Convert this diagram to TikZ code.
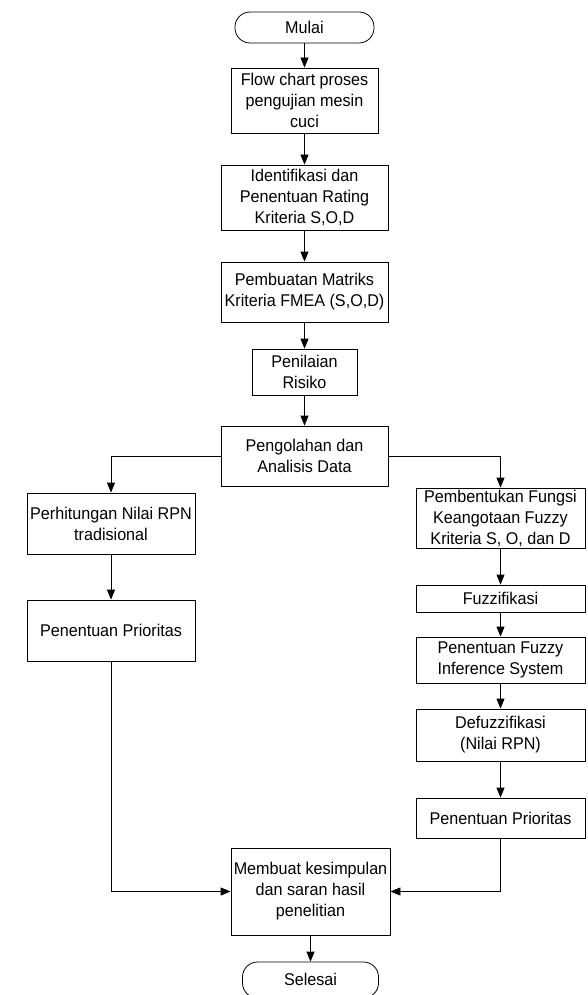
\documentclass[tikz,border=0pt]{standalone}
\usepackage{fontspec}
\setmainfont{Liberation Sans}[FakeStretch=0.95]
\usetikzlibrary{arrows.meta,positioning}

\begin{document}
\begin{tikzpicture}[x=1pt,y=-1pt,
  font=\fontsize{17}{21}\selectfont,
  blk/.style={draw,line width=0.8pt,fill=white,align=center,inner sep=0pt},
  trm/.style={blk,rounded corners=15pt},
  a/.style={-{Triangle[length=10pt,width=8pt]},line width=0.8pt}]

\useasboundingbox (0,0) rectangle (587,995);
\clip (0,0) rectangle (587,995);

% ------------------------------ main column -------------------------------
\node[trm,minimum width=139pt,minimum height=31pt] (mulai) at (304.5,27.5) {Mulai};
\node[blk,minimum width=147pt,minimum height=65pt] (flow)  at (304.5,100.5)
  {Flow chart proses\\pengujian mesin\\cuci};
\node[blk,minimum width=167pt,minimum height=65pt] (ident) at (304.5,197.5)
  {Identifikasi dan\\Penentuan Rating\\Kriteria S,O,D};
\node[blk,minimum width=167pt,minimum height=60pt] (matriks) at (304.5,292)
  {Pembuatan Matriks\\Kriteria FMEA (S,O,D)};
\node[blk,minimum width=105pt,minimum height=46pt] (risiko) at (304.5,372)
  {Penilaian\\Risiko};
\node[blk,minimum width=167pt,minimum height=60pt] (olah) at (304.5,456)
  {Pengolahan dan\\Analisis Data};
\draw[a] (mulai) -- (flow);
\draw[a] (flow) -- (ident);
\draw[a] (ident) -- (matriks);
\draw[a] (matriks) -- (risiko);
\draw[a] (risiko) -- (olah);

% ------------------------------ left branch -------------------------------
\node[blk,minimum width=168pt,minimum height=61pt] (hitung) at (111,523.5)
  {Perhitungan Nilai RPN\\tradisional};
\node[blk,minimum width=168pt,minimum height=61pt] (prioL) at (111,630.5)
  {Penentuan Prioritas};
\draw[a] (olah.west) -| (hitung.north);
\draw[a] (hitung) -- (prioL);

% ------------------------------ right branch ------------------------------
\node[blk,minimum width=169pt,minimum height=60pt] (fungsi) at (500.5,518)
  {Pembentukan Fungsi\\Keangotaan Fuzzy\\Kriteria S, O, dan D};
\node[blk,minimum width=169pt,minimum height=27pt] (fuzz) at (500.5,598.5)
  {Fuzzifikasi};
\node[blk,minimum width=169pt,minimum height=46pt] (fis) at (500.5,660)
  {Penentuan Fuzzy\\Inference System};
\node[blk,minimum width=169pt,minimum height=52pt] (defuzz) at (500.5,735)
  {Defuzzifikasi\\(Nilai RPN)};
\node[blk,minimum width=169pt,minimum height=40pt] (prioR) at (500.5,818)
  {Penentuan Prioritas};
\draw[a] (olah.east) -| (fungsi.north);
\draw[a] (fungsi) -- (fuzz);
\draw[a] (fuzz) -- (fis);
\draw[a] (fis) -- (defuzz);
\draw[a] (defuzz) -- (prioR);

% ------------------------------- closing ----------------------------------
\node[blk,minimum width=159pt,minimum height=87pt] (simpul) at (310.5,891.5)
  {Membuat kesimpulan\\dan saran hasil\\penelitian};
\node[trm,minimum width=136pt,minimum height=36pt] (selesai) at (310.5,980)
  {\raisebox{2pt}{Selesai}};
\draw[a] (prioL.south) |- (simpul.west);
\draw[a] (prioR.south) |- (simpul.east);
\draw[a] (simpul) -- (selesai);
\end{tikzpicture}
\end{document}
